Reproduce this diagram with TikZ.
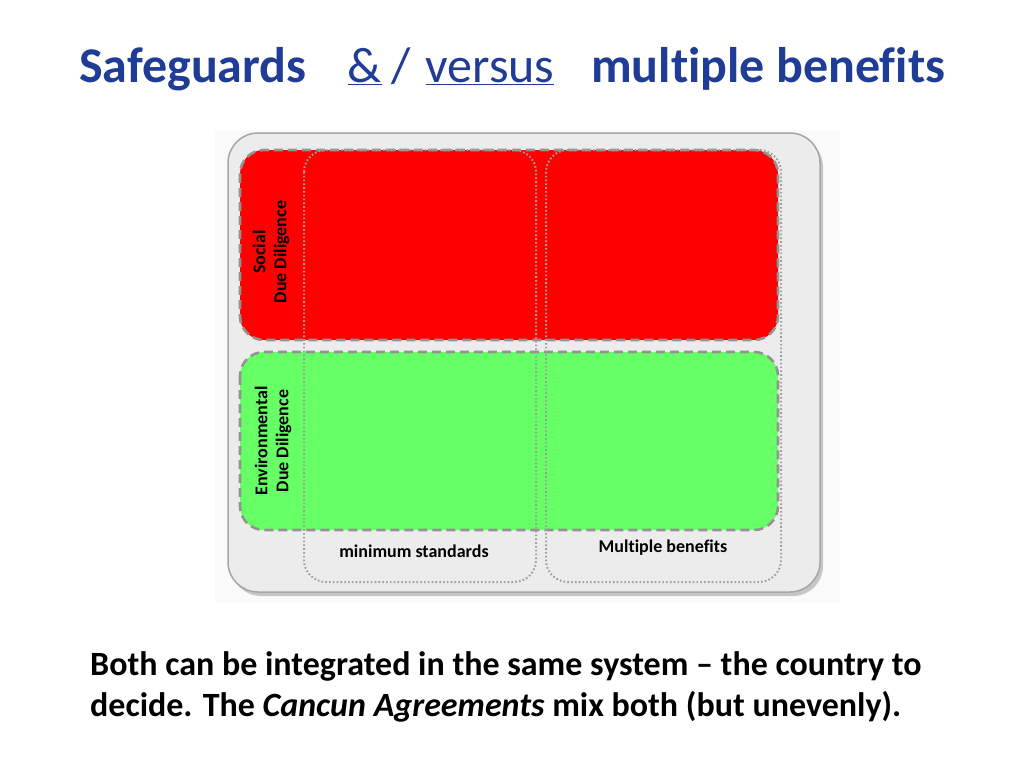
\documentclass[tikz,border=0pt]{standalone}
\usepackage{fontspec}
\setmainfont{Carlito}[Ligatures={NoCommon,TeX}]
\begin{document}
\begin{tikzpicture}[x=1pt,y=-1pt,
  lane/.style={draw=gray!85,line width=2.6pt,dash pattern=on 9pt off 5pt,rounded corners=24pt},
  col/.style={draw=gray!75,line width=2pt,dash pattern=on 1.6pt off 2.2pt,rounded corners=22pt},
  lbl/.style={font=\bfseries\fontsize{18}{21}\selectfont,align=center}]
\definecolor{tblue}{HTML}{1F3C96}
\definecolor{lgreen}{HTML}{66FF66}
\useasboundingbox (0,0) rectangle (1024,768);
\fill[white] (0,0) rectangle (1024,768);
\fill[gray!4] (215,130) rectangle (840,602);
\fill[gray!45] (231,137) [rounded corners=30pt] rectangle (823,596);
\draw[gray!70,line width=1.5pt,fill=gray!15,rounded corners=30pt] (228,133) rectangle (820,592);
\node[font=\bfseries\fontsize{50}{56}\selectfont,text=tblue,anchor=base west,inner sep=0] (t1) at (79,82) {Safeguards};
\node[font=\fontsize{50}{56}\selectfont,text=tblue,anchor=base,inner sep=0] (t2) at (365,82) {\underline{\&}};
\node[font=\fontsize{50}{56}\selectfont,text=tblue,anchor=base,inner sep=0] (t3) at (401,82) {/};
\node[font=\fontsize{50}{56}\selectfont,text=tblue,anchor=base,inner sep=0] (t4) at (490,82) {\underline{versus}};
\node[font=\bfseries\fontsize{50}{56}\selectfont,text=tblue,anchor=base west,inner sep=0] (t5) at (591,82) {multiple benefits};
\path[lane,fill=red] (240,150) rectangle (778,340);
\path[lane,fill=lgreen] (240,352) rectangle (778,530);
\draw[col] (304,150) rectangle (536,582);
\draw[col] (546,150) rectangle (781,582);
\node[lbl,rotate=90] (soc) at (271,252) {Social\\Due Diligence};
\node[lbl,rotate=90] (env) at (273,441) {Environmental\\Due Diligence};
\node[lbl] (ms) at (414,551) {minimum standards};
\node[lbl] (mb) at (663,548) {Multiple benefits};
\node[font=\bfseries\fontsize{34}{41}\selectfont,align=left,anchor=north west,inner sep=0] (bt) at (90,651)
 {Both can be integrated in the same system -- the country to\\decide. The \textit{Cancun Agreements} mix both (but unevenly).};
\end{tikzpicture}
\end{document}
